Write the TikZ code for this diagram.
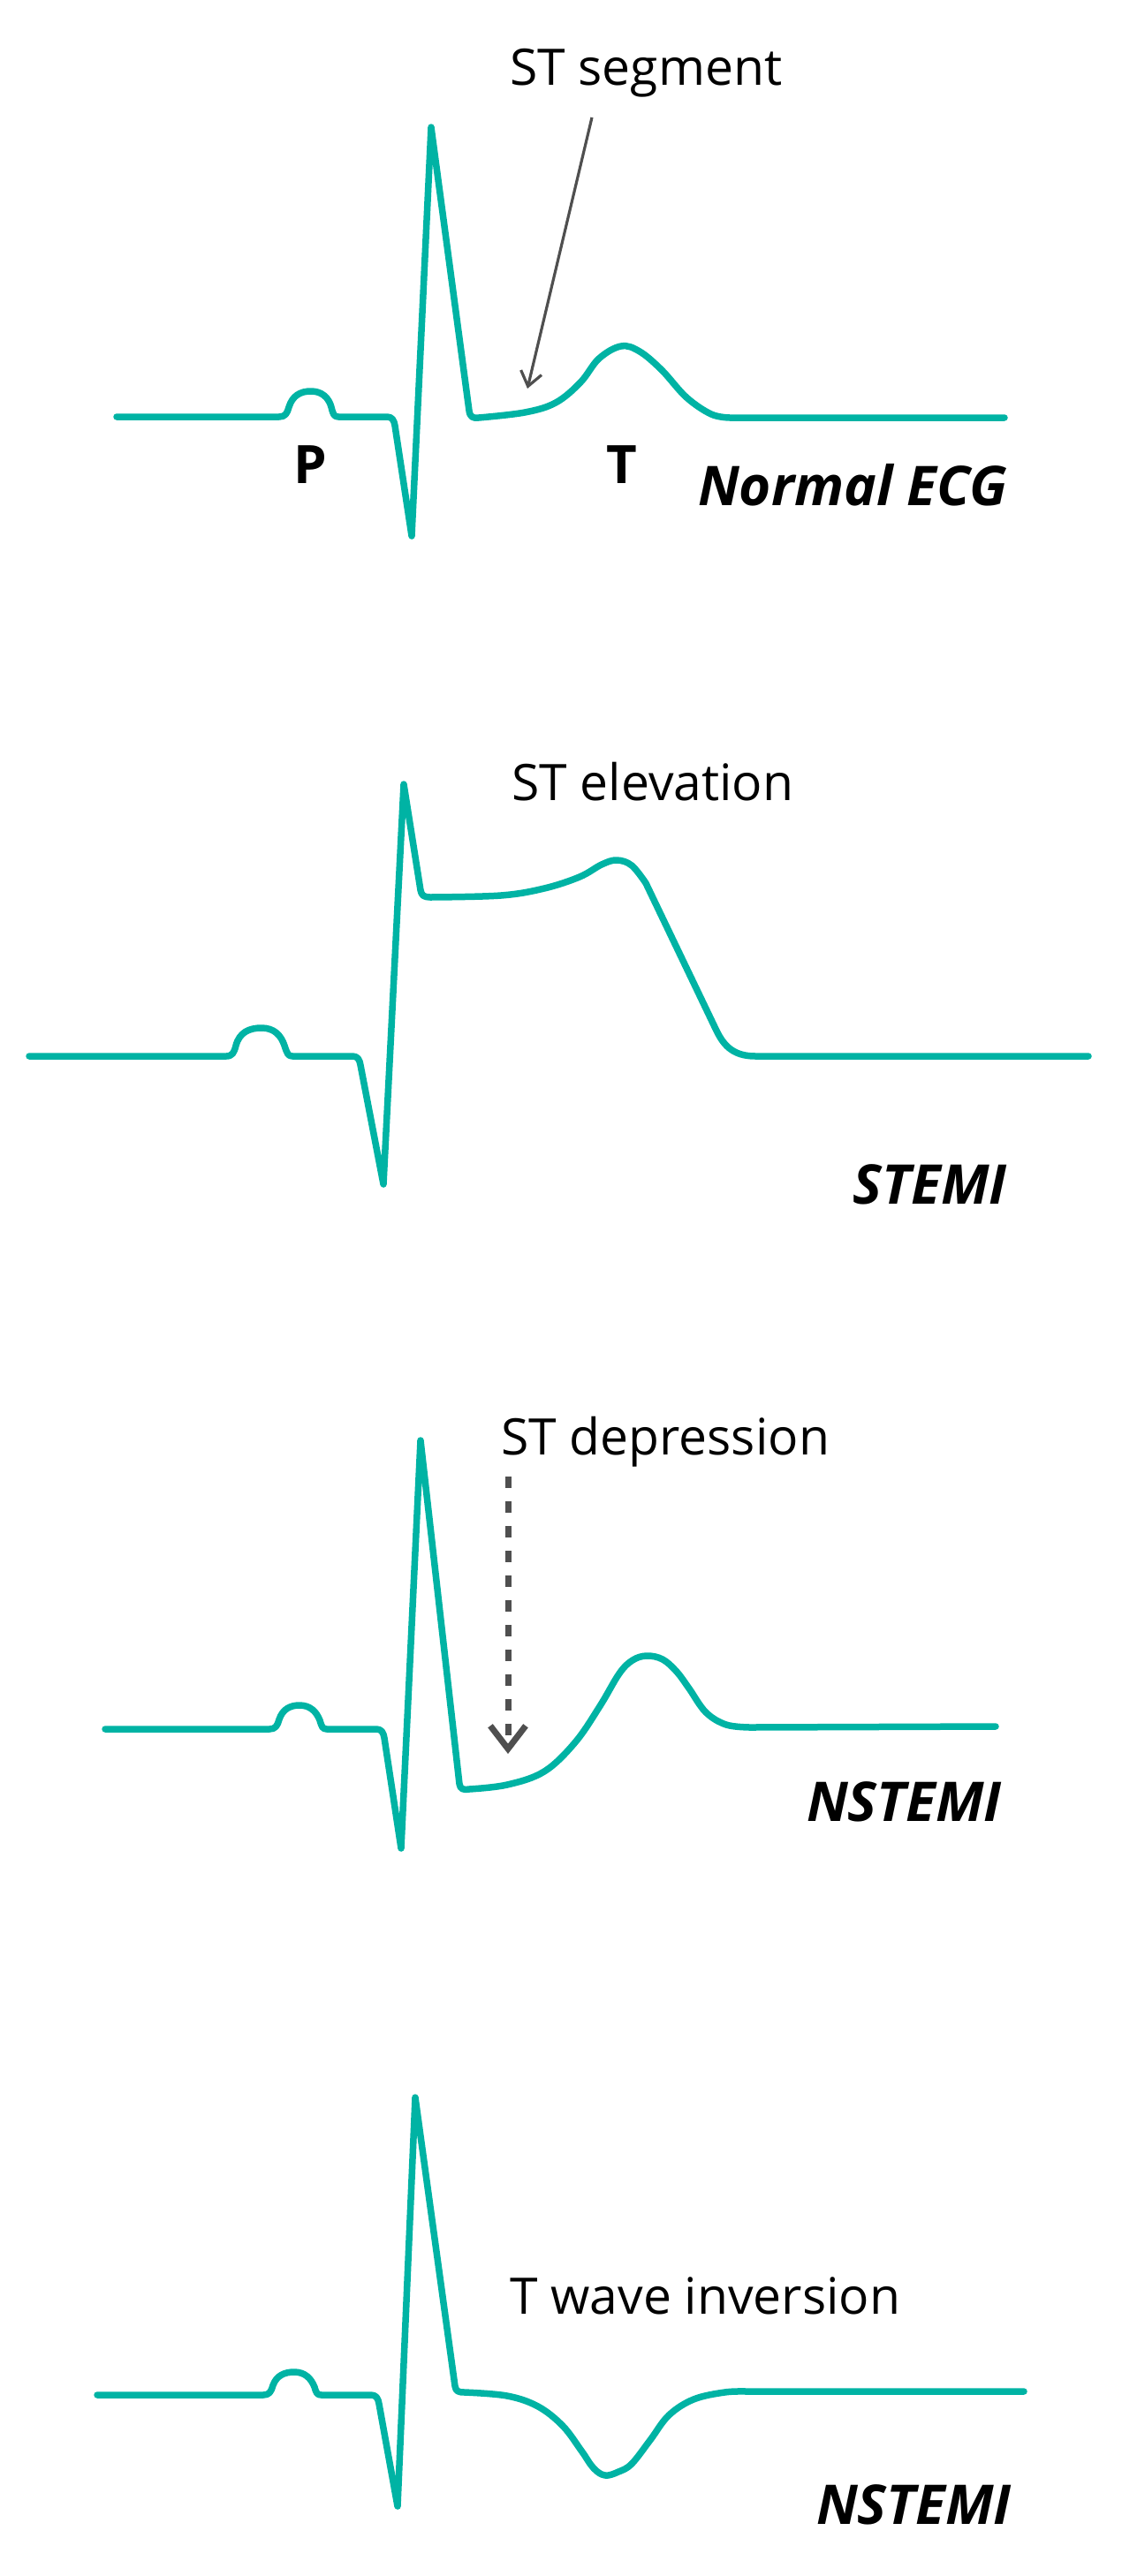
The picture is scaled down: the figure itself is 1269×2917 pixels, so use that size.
\documentclass[tikz,border=0pt]{standalone}
\usepackage{fontspec}
\setmainfont{Open Sans}
\usepackage{xcolor}
\usepackage{tikz}
\usetikzlibrary{positioning, arrows.meta}
\definecolor{ecgteal}{HTML}{00B3A4}
\definecolor{callgray}{HTML}{4F4F4F}

\begin{document}
\begin{tikzpicture}[x=1pt, y=-1pt,
    trace/.style={draw=ecgteal, line width=7.5pt, line join=round, line cap=round},
    lbl/.style={inner sep=0pt, anchor=base west, font=\fontsize{57}{68}\selectfont},
    wavename/.style={inner sep=0pt, anchor=base, font=\fontsize{60}{72}\selectfont\bfseries},
    tag/.style={inner sep=0pt, anchor=base east, font=\fontsize{62}{74}\selectfont\bfseries\itshape},
    callout/.style={draw=callgray, line width=3.2pt, -{Straight Barb[length=16pt, width=24pt]}},
    dashcallout/.style={draw=callgray, line width=7pt, dash pattern=on 13pt off 15pt,
        -{Straight Barb[length=26pt, width=40pt]}}]
    \useasboundingbox (0,0) rectangle (1269,2917);

    \draw[trace] (132,472) -- (316,472)
        .. controls (323,472) and (325,468) .. (327,461)
        .. controls (331,448) and (340,443) .. (352,443)
        .. controls (364,443) and (372,450) .. (375,461)
        .. controls (377,469) and (378,472) .. (383,472)
        -- (438,472) .. controls (444,472) and (446,476) .. (447,482)
        -- (466,607) -- (488,144) -- (531,465)
        .. controls (532,472) and (535,474) .. (542,473)
        -- plot[smooth, tension=0.6] coordinates {(542,473) (594,467) (629,456) (657,433)
            (678,406) (703,392) (724,398) (749,419) (777,450) (805,469) (826,473)}
        -- (1137,473);
    \node[lbl] (seglabel) at (577,97) {ST segment};
    \node[wavename] (plabel) at (351,547) {P};
    \node[wavename] (tlabel) at (704,547) {T};
    \node[tag] (normtag) at (1140,572) {Normal ECG};
    \coordinate (segtail) at (670,133);
    \coordinate (segtip) at (597,440);
    \draw[callout] (segtail) -- (segtip);

    \draw[trace] (33,1196) -- (256,1196)
        .. controls (263,1196) and (265,1192) .. (267,1184)
        .. controls (271,1169) and (282,1164) .. (296,1164)
        .. controls (310,1164) and (318,1172) .. (322,1184)
        .. controls (325,1193) and (326,1196) .. (331,1196)
        -- (399,1196) .. controls (405,1196) and (407,1200) .. (408,1206)
        -- (434,1341) -- (457,888) -- (476,1008)
        .. controls (477,1014) and (480,1016) .. (487,1016)
        -- plot[smooth, tension=0.6] coordinates {(487,1016) (567,1014) (616,1006) (656,993)
            (681,979) (698,974) (715,980) (731,1000)}
        -- (810,1165) .. controls (818,1182) and (828,1196) .. (855,1196) -- (1232,1196);
    \node[lbl] (elevlabel) at (579,906) {ST elevation};
    \node[tag] (stemitag) at (1140,1363) {STEMI};

    \draw[trace] (119,1958) -- (305,1958)
        .. controls (312,1958) and (314,1954) .. (316,1947)
        .. controls (320,1935) and (329,1931) .. (339,1931)
        .. controls (351,1931) and (358,1938) .. (362,1948)
        .. controls (364,1955) and (365,1958) .. (370,1958)
        -- (426,1958) .. controls (432,1958) and (434,1962) .. (435,1968)
        -- (454,2093) -- (476,1631) -- (520,2020)
        .. controls (521,2026) and (524,2027) .. (531,2026)
        -- plot[smooth, tension=0.6] coordinates {(531,2026) (574,2021) (616,2006) (651,1973)
            (679,1932) (701,1895) (716,1880) (732,1875) (750,1879) (766,1893) (780,1912)
            (799,1939) (822,1953) (849,1956)}
        -- (1127,1955);
    \node[lbl] (deplabel) at (567,1647) {ST depression};
    \node[tag] (nstemitag) at (1134,2062) {NSTEMI};
    \coordinate (deptail) at (575,1672);
    \coordinate (deptip) at (575,1986);
    \draw[dashcallout] (deptail) -- (deptip);

    \draw[trace] (110,2712) -- (298,2712)
        .. controls (305,2712) and (307,2708) .. (309,2701)
        .. controls (313,2690) and (322,2686) .. (333,2686)
        .. controls (345,2686) and (352,2693) .. (356,2703)
        .. controls (358,2710) and (359,2712) .. (364,2712)
        -- (420,2712) .. controls (426,2712) and (428,2716) .. (429,2722)
        -- (450,2838) -- (470,2375) -- (515,2702)
        .. controls (516,2708) and (519,2709) .. (526,2709)
        -- plot[smooth, tension=0.6] coordinates {(526,2709) (574,2713) (609,2725) (637,2747)
            (658,2775) (672,2795) (685,2803) (700,2799) (715,2790) (736,2763) (757,2735)
            (785,2717) (820,2709) (845,2708)}
        -- (1159,2708);
    \node[lbl] (invlabel) at (577,2620) {T wave inversion};
    \node[tag] (nstemitagb) at (1145,2858) {NSTEMI};
\end{tikzpicture}
\end{document}
